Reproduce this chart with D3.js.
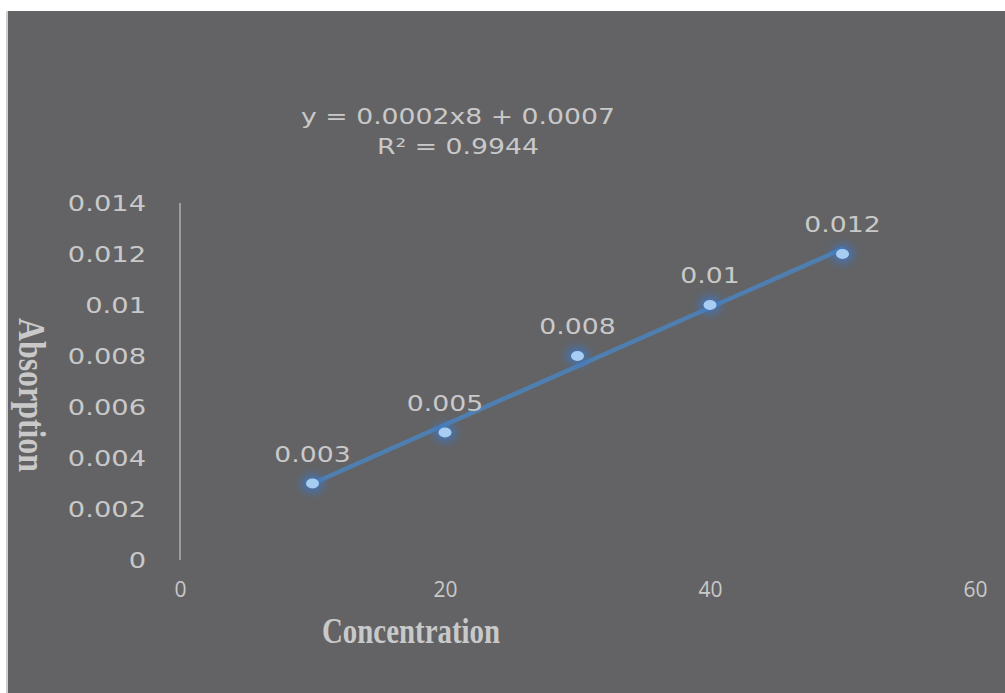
<!DOCTYPE html>
<html>
<head>
<meta charset="utf-8">
<script src="https://cdn.jsdelivr.net/npm/d3@7"></script>
<style>
  html, body { margin: 0; padding: 0; background: #ffffff; }
  svg { display: block; }
</style>
</head>
<body>
<svg id="chart"></svg>
<script>
// chart values
const concentrations = [10, 20, 30, 40, 50];
const absorptions = [0.003, 0.005, 0.008, 0.01, 0.012];
const pointLabels = ["0.003", "0.005", "0.008", "0.01", "0.012"];
const xTicks = [0, 20, 40, 60];
const yTicks = [0, 0.002, 0.004, 0.006, 0.008, 0.01, 0.012, 0.014];
const equationLines = ["y = 0.0002x8 + 0.0007", "R\u00b2 = 0.9944"];

const width = 1005, height = 693;
const bg = "#636365", textColor = "#c9c9c9";
const wideFont = "'DejaVu Sans', sans-serif";

// widen glyphs to mimic the original's broad geometric face
function stretch(sel, factor) {
    sel.each(function () {
        const w = this.getComputedTextLength();
        d3.select(this)
            .attr("textLength", w * factor)
            .attr("lengthAdjust", "spacingAndGlyphs");
    });
}

const svg = d3.select("svg#chart")
    .attr("width", width)
    .attr("height", height);

// white frame at top/left, thin light strip, then the grey plot area
svg.append("rect").attr("x", 6).attr("y", 11).attr("width", width - 6).attr("height", height - 11).attr("fill", "#cfcfcf");
svg.append("rect").attr("x", 8).attr("y", 11).attr("width", width - 8).attr("height", height - 11).attr("fill", bg);

const x = d3.scaleLinear().domain([0, 60]).range([180, 975]);
const y = d3.scaleLinear().domain([0, 0.014]).range([560, 203]);

const defs = svg.append("defs");
const glow = defs.append("filter").attr("id", "glow")
    .attr("x", "-150%").attr("y", "-150%").attr("width", "400%").attr("height", "400%");
glow.append("feGaussianBlur").attr("stdDeviation", 4);

// y axis line only, no ticks
svg.append("line")
    .attr("x1", x(0)).attr("x2", x(0))
    .attr("y1", y(0.014)).attr("y2", y(0))
    .attr("stroke", "#9d9d9f")
    .attr("stroke-width", 2);

// y tick labels
const yAxis = d3.axisLeft(y).tickValues(yTicks).tickSize(0).tickPadding(0)
    .tickFormat(d => d === 0 ? "0" : String(+d.toFixed(3)));
svg.append("g")
    .attr("transform", "translate(146,0)")
    .call(yAxis)
    .call(g => g.select(".domain").remove())
    .selectAll("text")
        .attr("fill", textColor)
        .attr("font-family", wideFont)
        .attr("font-size", 21)
        .attr("dy", "0.36em")
        .call(stretch, 1.3);

// x tick labels
const xAxis = d3.axisBottom(x).tickValues(xTicks).tickSize(0).tickPadding(0);
svg.append("g")
    .attr("transform", "translate(0,582)")
    .call(xAxis)
    .call(g => g.select(".domain").remove())
    .selectAll("text")
        .attr("fill", textColor)
        .attr("font-family", "'Open Sans', sans-serif")
        .attr("font-size", 21)
        .attr("dy", "0.71em");

// trendline from least squares fit
const mx = d3.mean(concentrations), my = d3.mean(absorptions);
const sxy = d3.sum(concentrations, (c, i) => (c - mx) * (absorptions[i] - my));
const sxx = d3.sum(concentrations, c => (c - mx) * (c - mx));
const slope = sxy / sxx, intercept = my - slope * mx;
const xmin = d3.min(concentrations), xmax = d3.max(concentrations);

svg.append("line")
    .attr("x1", x(xmin)).attr("y1", y(slope * xmin + intercept))
    .attr("x2", x(xmax)).attr("y2", y(slope * xmax + intercept))
    .attr("stroke", "#4f7fb0")
    .attr("stroke-width", 4.5)
    .attr("stroke-linecap", "round");

const pts = concentrations.map((c, i) => ({ c: c, a: absorptions[i], label: pointLabels[i] }));

// glow behind markers
svg.append("g").selectAll("ellipse")
    .data(pts)
    .join("ellipse")
    .attr("cx", d => x(d.c)).attr("cy", d => y(d.a))
    .attr("rx", 11).attr("ry", 9)
    .attr("fill", "#3c78c8")
    .attr("opacity", 0.8)
    .attr("filter", "url(#glow)");

svg.append("g").selectAll("ellipse")
    .data(pts)
    .join("ellipse")
    .attr("cx", d => x(d.c)).attr("cy", d => y(d.a))
    .attr("rx", 6.5).attr("ry", 5)
    .attr("fill", "#a7cdf2");

// data labels
svg.append("g").selectAll("text")
    .data(pts)
    .join("text")
    .attr("x", d => x(d.c))
    .attr("y", d => y(d.a) - 22)
    .attr("text-anchor", "middle")
    .attr("fill", textColor)
    .attr("font-family", wideFont)
    .attr("font-size", 21)
    .text(d => d.label)
    .call(stretch, 1.27);

// trendline equation
svg.append("g").selectAll("text")
    .data(equationLines)
    .join("text")
    .attr("x", 458)
    .attr("y", (d, i) => 124 + i * 30)
    .attr("text-anchor", "middle")
    .attr("fill", textColor)
    .attr("font-family", wideFont)
    .attr("font-size", 21)
    .text(d => d)
    .call(stretch, 1.27);

// axis titles
svg.append("text")
    .attr("x", 411).attr("y", 643)
    .attr("text-anchor", "middle")
    .attr("fill", textColor)
    .attr("font-family", "'Liberation Serif', serif")
    .attr("font-weight", "bold")
    .attr("font-size", 35)
    .attr("textLength", 178)
    .attr("lengthAdjust", "spacingAndGlyphs")
    .text("Concentration");

svg.append("text")
    .attr("transform", "translate(19,395) rotate(90)")
    .attr("text-anchor", "middle")
    .attr("fill", textColor)
    .attr("font-family", "'Liberation Serif', serif")
    .attr("font-weight", "bold")
    .attr("font-size", 38)
    .attr("textLength", 154)
    .attr("lengthAdjust", "spacingAndGlyphs")
    .text("Absorption");
</script>
</body>
</html>
